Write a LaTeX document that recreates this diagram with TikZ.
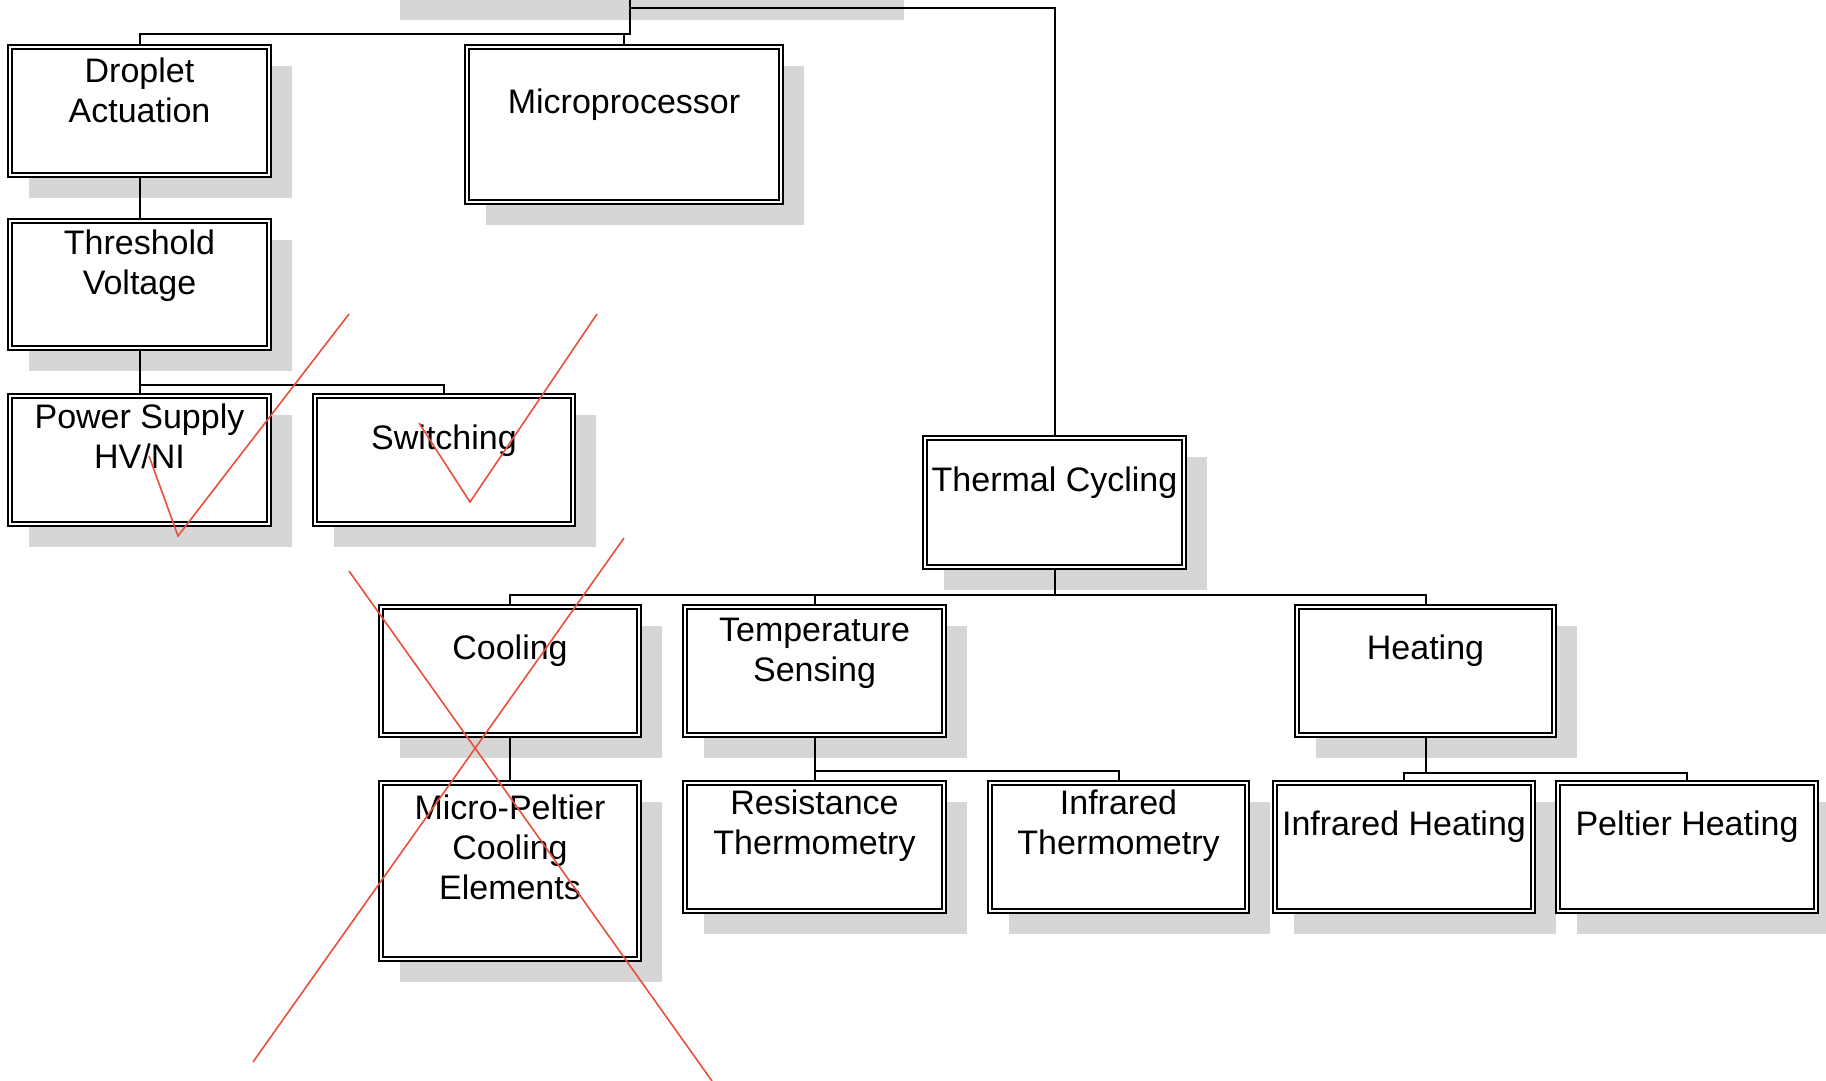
\documentclass[tikz,border=0pt]{standalone}
\usepackage{fontspec}
\setmainfont{Liberation Sans}
\definecolor{shade}{RGB}{214,214,214}
\definecolor{pen}{RGB}{232,80,60}
\tikzset{
  box/.style={draw=black, line width=1.6pt, fill=white, inner sep=0pt},
  innerline/.style={draw=black, line width=2.4pt},
  shadowbox/.style={fill=shade},
  lbl/.style={font=\fontsize{34}{40}\selectfont, align=center, inner sep=0pt},
  link/.style={draw=black, line width=2pt},
  redpen/.style={draw=pen, line width=1.6pt, line join=miter}
}
% name, x1, y1, x2, y2, text offset, text
\newcommand{\treebox}[7]{%
  \fill[shadowbox] (#2+21,#3+21) rectangle (#4+21,#5+21);
  \node[box, minimum width={(#4-#2)*1pt}, minimum height={(#5-#3)*1pt}] (#1) at ({(#2+#4)/2},{(#3+#5)/2}) {};
  \draw[innerline] ([xshift=5pt,yshift=-5pt]#1.north west) rectangle ([xshift=-5pt,yshift=5pt]#1.south east);
  \node[lbl] (#1-t) at ({(#2+#4)/2},{#3+(#5-#3)/3+#6}) {#7};
}
\begin{document}
\begin{tikzpicture}[x=1pt,y=-1pt]
\useasboundingbox (0,0) rectangle (1826,1081);
% shadow of the root box (cut off above)
\fill[shadowbox] (400,0) rectangle (904,20);
\coordinate (root) at (630,0);

\treebox{droplet}{8}{45}{271}{177}{1}{Droplet\\Actuation}
\treebox{micro}{465}{45}{783}{204}{7}{Microprocessor}
\treebox{threshold}{8}{219}{271}{350}{3}{Threshold\\Voltage}
\treebox{power}{8}{394}{271}{526}{-2}{Power Supply\\HV/NI}
\treebox{switching}{313}{394}{575}{526}{3}{Switching}
\treebox{thermal}{923}{436}{1186}{569}{2}{Thermal Cycling}
\treebox{cooling}{379}{605}{641}{737}{2}{Cooling}
\treebox{temp}{683}{605}{946}{737}{4}{Temperature\\Sensing}
\treebox{heating}{1295}{605}{1556}{737}{2}{Heating}
\treebox{peltierc}{379}{781}{641}{961}{6}{Micro-Peltier\\Cooling\\Elements}
\treebox{resist}{683}{781}{946}{913}{1}{Resistance\\Thermometry}
\treebox{irthermo}{988}{781}{1249}{913}{1}{Infrared\\Thermometry}
\treebox{irheat}{1273}{781}{1535}{913}{2}{Infrared Heating}
\treebox{pheat}{1556}{781}{1818}{913}{2}{Peltier Heating}

% connectors
\draw[link] (root) -- ++(0,34) -| (droplet.north);
\draw[link] (root) -- ++(0,34) -| (micro.north);
\draw[link] (root) -- ++(0,8) -| (thermal.north);
\draw[link] (droplet.south) -- (threshold.north);
\draw[link] (threshold.south) -- ++(0,34) -| (power.north);
\draw[link] (threshold.south) -- ++(0,34) -| (switching.north);
\draw[link] (thermal.south) -- ++(0,25) -| (cooling.north);
\draw[link] (thermal.south) -- ++(0,25) -| (temp.north);
\draw[link] (thermal.south) -- ++(0,25) -| (heating.north);
\draw[link] (cooling.south) -- (peltierc.north);
\draw[link] (temp.south) -- ++(0,33) -| (resist.north);
\draw[link] (temp.south) -- ++(0,33) -| (irthermo.north);
\draw[link] (heating.south) -- ++(0,35) -| (irheat.north);
\draw[link] (heating.south) -- ++(0,35) -| (pheat.north);

% red annotation marks
\draw[redpen] (149,456) -- (178,536) -- (349,314);
\draw[redpen] (419,423) -- (470,502) -- (597,314);
\draw[redpen] (349,571) -- (712,1081);
\draw[redpen] (624,538) -- (253,1062);
\end{tikzpicture}
\end{document}
